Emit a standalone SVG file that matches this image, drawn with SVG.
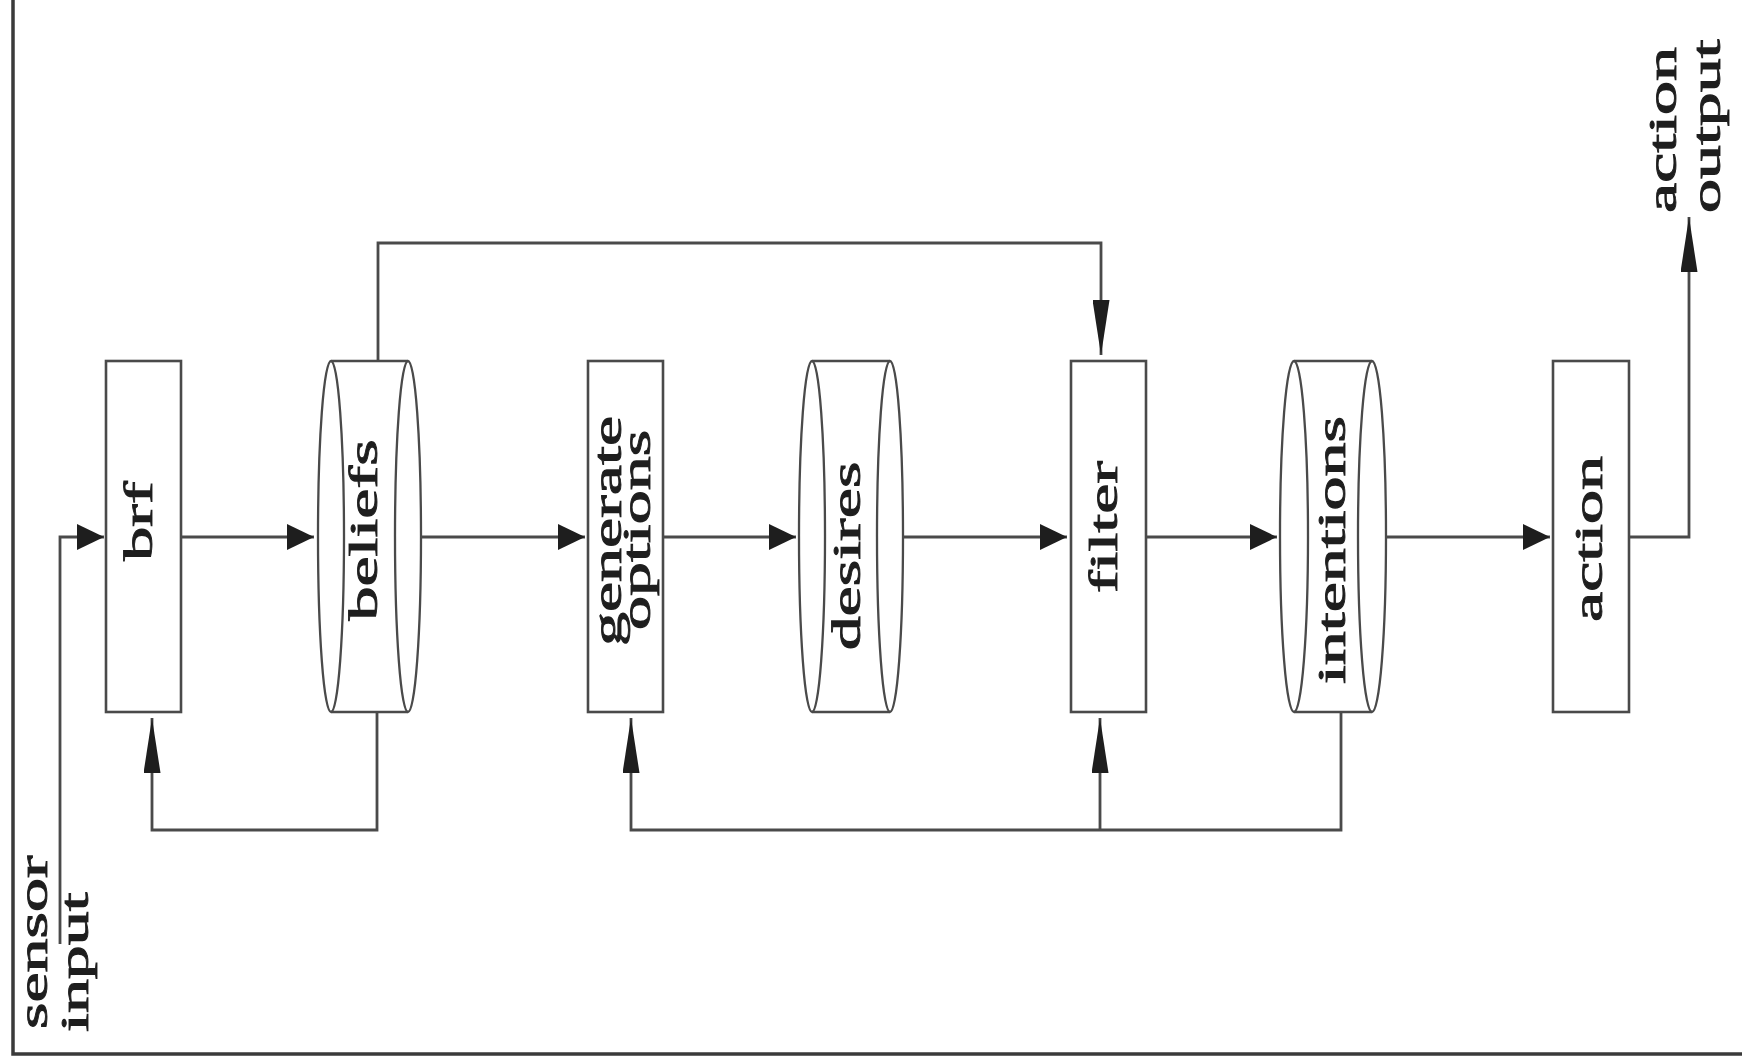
<svg xmlns="http://www.w3.org/2000/svg" width="1742" height="1064" viewBox="0 0 1742 1064">
  <style>
    .box { fill: #ffffff; stroke: #4a4a4a; stroke-width: 2.6; }
    .cyl { fill: none; stroke: #4a4a4a; stroke-width: 2.3; }
    .conn { fill: none; stroke: #4a4a4a; stroke-width: 2.8; }
    .lbl { font-family: "Liberation Serif", "Times New Roman", serif; font-size: 40px; fill: #1e1e1e; stroke: #1e1e1e; stroke-width: 0.9; }
    .mid { text-anchor: middle; }
    .frame { fill: none; stroke: #3a3a3a; stroke-width: 3.5; }
  </style>
  <defs>
    <marker id="ah" viewBox="0 0 27 26" refX="27" refY="13" markerWidth="27" markerHeight="26" markerUnits="userSpaceOnUse" orient="auto">
      <path d="M0,0 L27,13 L0,26 Z" fill="#1e1e1e"/>
    </marker>
    <marker id="av" viewBox="0 0 55 17" refX="55" refY="8.5" markerWidth="55" markerHeight="17" markerUnits="userSpaceOnUse" orient="auto">
      <path d="M0,0 L55,8.5 L0,17 Z" fill="#1e1e1e"/>
    </marker>
  </defs>
  <rect width="1742" height="1064" fill="#ffffff"/>
  <path class="frame" d="M13,0 L13,1054 L1742,1054"/>

  <g id="connectors">
    <path class="conn" d="M60,944 L60,537 L104,537" marker-end="url(#ah)"/>
    <path class="conn" d="M181,537 L314,537" marker-end="url(#ah)"/>
    <path class="conn" d="M421,537 L585,537" marker-end="url(#ah)"/>
    <path class="conn" d="M663,537 L796,537" marker-end="url(#ah)"/>
    <path class="conn" d="M903,537 L1067,537" marker-end="url(#ah)"/>
    <path class="conn" d="M1146,537 L1277,537" marker-end="url(#ah)"/>
    <path class="conn" d="M1386,537 L1550,537" marker-end="url(#ah)"/>
    <path class="conn" d="M1629,537 L1689,537 L1689,217" marker-end="url(#av)"/>
    <path class="conn" d="M377,712 L377,830 L152,830 L152,718" marker-end="url(#av)"/>
    <path class="conn" d="M378,361 L378,243 L1101,243 L1101,355" marker-end="url(#av)"/>
    <path class="conn" d="M1341,712 L1341,830 L631,830 L631,718" marker-end="url(#av)"/>
    <path class="conn" d="M1100,830 L1100,718" marker-end="url(#av)"/>
  </g>

  <g id="brf">
    <rect class="box" x="106" y="361" width="75" height="351"/>
    <text class="lbl mid" transform="translate(152,521) rotate(-90) scale(1.7,1)">brf</text>
  </g>

  <g id="beliefs">
    <line class="cyl" x1="331" y1="361" x2="408" y2="361"/>
    <line class="cyl" x1="331" y1="712" x2="408" y2="712"/>
    <ellipse class="cyl" cx="331" cy="536.5" rx="13" ry="175.5"/>
    <ellipse class="cyl" cx="408" cy="536.5" rx="13" ry="175.5"/>
    <text class="lbl mid" transform="translate(377,530) rotate(-90) scale(1.7,1)">beliefs</text>
  </g>

  <g id="generate-options">
    <rect class="box" x="588" y="361" width="75" height="351"/>
    <text class="lbl mid" transform="translate(621,531) rotate(-90) scale(1.7,1)">generate</text>
    <text class="lbl mid" transform="translate(650,530) rotate(-90) scale(1.7,1)">options</text>
  </g>

  <g id="desires">
    <line class="cyl" x1="812" y1="361" x2="890" y2="361"/>
    <line class="cyl" x1="812" y1="712" x2="890" y2="712"/>
    <ellipse class="cyl" cx="812" cy="536.5" rx="13" ry="175.5"/>
    <ellipse class="cyl" cx="890" cy="536.5" rx="13" ry="175.5"/>
    <text class="lbl mid" transform="translate(860,556) rotate(-90) scale(1.7,1)">desires</text>
  </g>

  <g id="filter">
    <rect class="box" x="1071" y="361" width="75" height="351"/>
    <text class="lbl mid" transform="translate(1117,527) rotate(-90) scale(1.7,1)">filter</text>
  </g>

  <g id="intentions">
    <line class="cyl" x1="1294" y1="361" x2="1372" y2="361"/>
    <line class="cyl" x1="1294" y1="712" x2="1372" y2="712"/>
    <ellipse class="cyl" cx="1294" cy="536.5" rx="14" ry="175.5"/>
    <ellipse class="cyl" cx="1372" cy="536.5" rx="14" ry="175.5"/>
    <text class="lbl mid" transform="translate(1345,550) rotate(-90) scale(1.7,1)">intentions</text>
  </g>

  <g id="action">
    <rect class="box" x="1553" y="361" width="76" height="351"/>
    <text class="lbl mid" transform="translate(1602,539) rotate(-90) scale(1.7,1)">action</text>
  </g>

  <g id="sensor-input">
    <text class="lbl" transform="translate(47,1029) rotate(-90) scale(1.7,1)">sensor</text>
    <text class="lbl" transform="translate(88,1032) rotate(-90) scale(1.7,1)">input</text>
  </g>

  <g id="action-output">
    <text class="lbl" transform="translate(1676,213) rotate(-90) scale(1.7,1)">action</text>
    <text class="lbl" transform="translate(1720,213) rotate(-90) scale(1.7,1)">output</text>
  </g>
</svg>
